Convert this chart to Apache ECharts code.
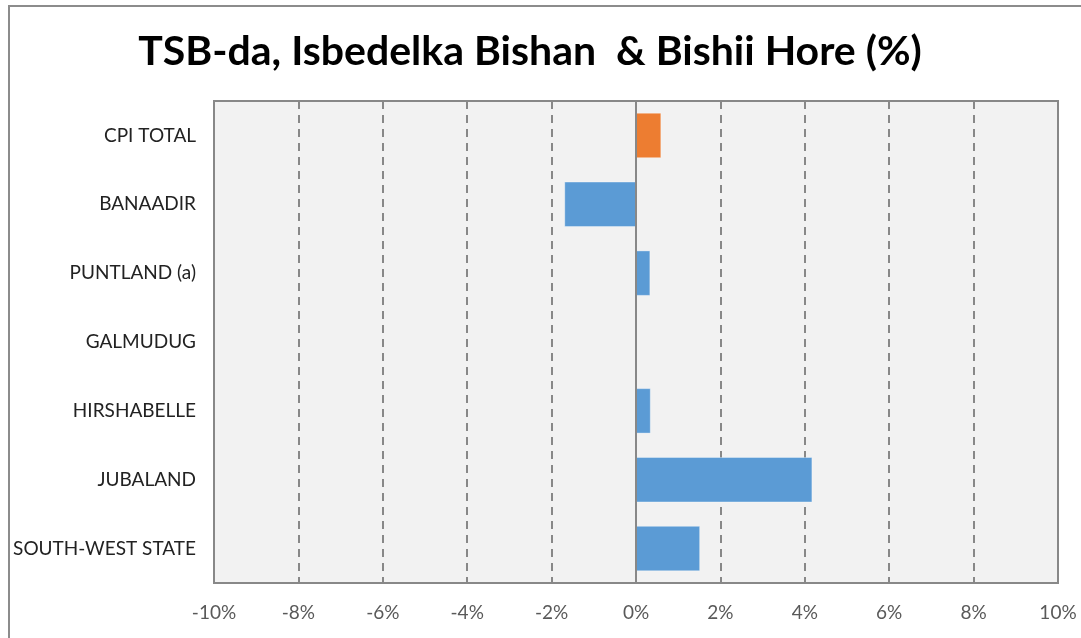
<!DOCTYPE html>
<html>
<head>
<meta charset="utf-8">
<script src="https://cdn.jsdelivr.net/npm/echarts@6/dist/echarts.min.js"></script>
<style>
  html, body { margin: 0; padding: 0; background: #fff; }
  #container { width: 1081px; height: 638px; }
</style>
</head>
<body>
<div id="container"></div>
<script>
const regions = ['CPI TOTAL', 'BANAADIR', 'PUNTLAND (a)', 'GALMUDUG', 'HIRSHABELLE', 'JUBALAND', 'SOUTH-WEST STATE']
const changes = [0.6, -1.7, 0.34, -0.02, 0.35, 4.18, 1.52]
const highlight = ['CPI TOTAL']
const xTicks = [-10, -8, -6, -4, -2, 0, 2, 4, 6, 8, 10]

const myChart = echarts.init(document.getElementById('container'))

const option = {
  backgroundColor: '#fff',
  title: {
    text: 'TSB-da, Isbedelka Bishan  & Bishii Hore (%)',
    left: 525,
    textAlign: 'center',
    top: 26,
    textStyle: {
      fontFamily: 'Lato',
      fontWeight: 'bold',
      fontSize: 41,
      color: '#000'
    }
  },
  // outer chart border
  graphic: [
    {
      type: 'rect',
      shape: { x: 9, y: 6, width: 1200, height: 800 },
      style: { fill: 'none', stroke: '#8c8c8c', lineWidth: 2 },
      silent: true
    }
  ],
  grid: {
    left: 214,
    right: 23,
    top: 101,
    bottom: 55,
    show: true,
    backgroundColor: '#f2f2f2',
    borderColor: '#888',
    borderWidth: 2
  },
  xAxis: {
    type: 'value',
    min: xTicks[0],
    max: xTicks[xTicks.length - 1],
    interval: 2,
    axisLine: { show: false },
    axisTick: { show: false },
    axisLabel: {
      margin: 20,
      fontFamily: 'Lato',
      fontSize: 19,
      color: '#595959',
      formatter: v => v + '%'
    },
    // dashed grid lines
    splitLine: {
      show: true,
      lineStyle: { color: '#888', width: 2, type: [8, 6] }
    }
  },
  yAxis: {
    type: 'category',
    inverse: true,
    data: regions,
    axisLine: { show: false },
    axisTick: { show: false },
    axisLabel: {
      margin: 18,
      fontFamily: 'Lato',
      fontSize: 19,
      color: '#222'
    }
  },
  series: [
    {
      type: 'bar',
      barWidth: '66%',
      data: changes.map((v, i) => ({
        value: v,
        itemStyle: { color: highlight.includes(regions[i]) ? '#ed7d31' : '#5b9bd5' }
      })),
      itemStyle: { borderColor: 'rgba(255,255,255,0.35)', borderWidth: 1 },
      markLine: {
        silent: true,
        symbol: 'none',
        label: { show: false },
        lineStyle: { color: '#888', width: 2, type: 'solid' },
        data: [{ xAxis: 0 }]
      }
    }
  ]
}

myChart.setOption(option, true)
</script>
</body>
</html>
